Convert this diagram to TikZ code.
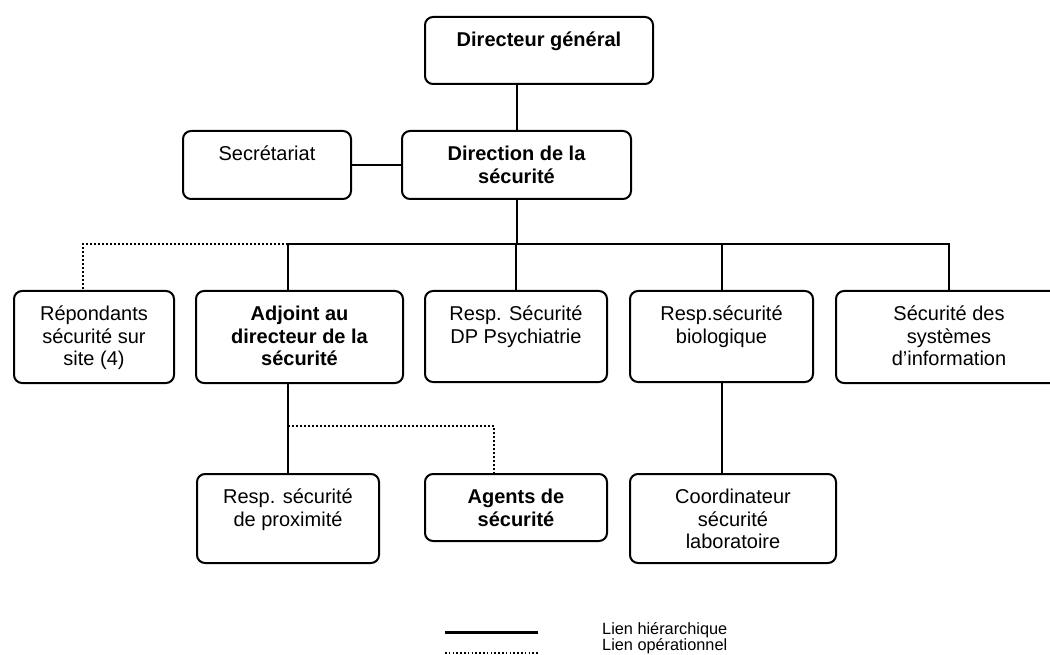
\documentclass[tikz,border=0pt]{standalone}
\usepackage{fontspec}
\setmainfont{Liberation Sans}
\begin{document}
\begin{tikzpicture}[x=1pt,y=-1pt,
  box/.style={draw, line width=2pt, rounded corners=8pt, inner sep=0pt, anchor=north west},
  lbl/.style={font=\fontsize{20}{22.7}\selectfont, align=center, inner sep=0pt, anchor=base},
  lblb/.style={lbl, font=\fontsize{20}{22.7}\selectfont\bfseries},
  hier/.style={line width=2pt},
  oper/.style={line width=2pt, dash pattern=on 1.8pt off 2.2pt},
  legtxt/.style={anchor=base west, font=\fontsize{16.3}{14.5}\selectfont, inner sep=0pt}]
\clip (0,0) rectangle (1050,655);
% boxes
\node[box, minimum width=228pt, minimum height=67pt] (dg) at (424,16) {};
\node[box, minimum width=168pt, minimum height=68pt] (sec) at (182,130) {};
\node[box, minimum width=229pt, minimum height=68pt] (ds) at (401,130) {};
\node[box, minimum width=160pt, minimum height=92pt] (rep) at (13,290) {};
\node[box, minimum width=207pt, minimum height=92pt] (adj) at (195,290) {};
\node[box, minimum width=182pt, minimum height=91pt] (dp) at (424,290) {};
\node[box, minimum width=183pt, minimum height=91pt] (bio) at (629,290) {};
\node[box, minimum width=226pt, minimum height=92pt] (ssi) at (835,290) {};
\node[box, minimum width=182pt, minimum height=89pt] (prox) at (196,473) {};
\node[box, minimum width=182pt, minimum height=67pt] (agt) at (424,473) {};
\node[box, minimum width=206pt, minimum height=89pt] (coord) at (629,473) {};
% texts (base anchor = baseline of the last line)
\node[lblb] (dg-t) at ([yshift=-30.5pt]dg.north) {Directeur général};
\node[lbl] (sec-t) at ([yshift=-30.5pt]sec.north) {Secrétariat};
\node[lblb] (ds-t) at ([yshift=-53.2pt]ds.north) {Direction de la\\sécurité};
\node[lbl] (rep-t) at ([yshift=-75.9pt]rep.north) {Répondants\\sécurité sur\\site (4)};
\node[lblb] (adj-t) at ([yshift=-75.9pt]adj.north) {Adjoint au\\directeur de la\\sécurité};
\node[lbl] (dp-t) at ([yshift=-53.2pt]dp.north) {Resp. Sécurité\\DP Psychiatrie};
\node[lbl] (bio-t) at ([yshift=-53.2pt]bio.north) {Resp.sécurité\\biologique};
\node[lbl] (ssi-t) at ([yshift=-75.9pt]ssi.north) {Sécurité des\\systèmes\\d’information};
\node[lbl] (prox-t) at ([yshift=-53.2pt]prox.north) {Resp. sécurité\\de proximité};
\node[lblb] (agt-t) at ([yshift=-53.2pt]agt.north) {Agents de\\sécurité};
\node[lbl] (coord-t) at ([yshift=-75.9pt]coord.north) {Coordinateur\\sécurité\\laboratoire};
% connectors
\coordinate (bus) at (516,244);
\coordinate (opy) at (0,426);
\draw[hier] (ds.north |- dg.south) -- (ds.north);
\draw[hier] (sec.east) -- (ds.west);
\draw[hier] (ds.south) -- (ds.south |- bus);
\draw[hier] ([xshift=-11.5pt]adj.north) |- (ssi.north |- bus) -- (ssi.north);
\draw[hier] (dp.north |- bus) -- (dp.north);
\draw[hier] (bio.north |- bus) -- (bio.north);
\draw[oper] ([xshift=-11.5pt]adj.north |- bus) -| ([xshift=-11pt]rep.north);
\draw[hier] ([xshift=-11.5pt]adj.south) -- (prox.north);
\draw[oper] ([xshift=-11.5pt]adj.south |- opy) -| ([xshift=-22pt]agt.north);
\draw[hier] (bio.south) -- (bio.south |- coord.north);
% legend
\coordinate (l1a) at (445,632);
\coordinate (l1b) at (538,632);
\coordinate (l2a) at (445,653);
\coordinate (l2b) at (538,653);
\draw[line width=3pt] (l1a) -- (l1b);
\draw[line width=1.7pt, dash pattern=on 1.5pt off 2.3pt] (l2a) -- (l2b);
\node[legtxt] (leg1) at (602,634.5) {Lien hiérarchique};
\node[legtxt] (leg2) at (602,650) {Lien opérationnel};
\end{tikzpicture}
\end{document}
